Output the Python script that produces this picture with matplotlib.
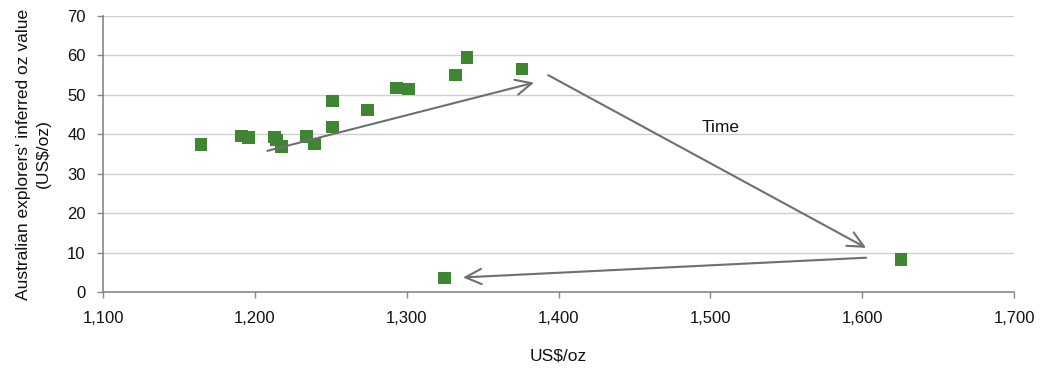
import matplotlib
matplotlib.use("Agg")
import matplotlib.pyplot as plt
from matplotlib.ticker import FuncFormatter, MultipleLocator

# Gold price (US$/oz) vs. explorers' inferred value per ounce (US$/oz)
gold_price = [1164.4, 1191.1, 1195.7, 1213.0, 1214.3, 1217.6, 1234.1, 1239.2,
              1251.0, 1251.0, 1274.3, 1293.2, 1301.3, 1332.1, 1339.7, 1376.1,
              1625.4, 1324.8]
inferred_value = [37.4, 39.6, 39.2, 39.3, 38.5, 36.9, 39.4, 37.5,
                  41.9, 48.4, 46.2, 51.7, 51.5, 55.1, 59.5, 56.5,
                  8.3, 3.6]

# Time-direction arrows: (start, end) in data units
time_arrows = [
    ((1208.2, 35.8), (1383.9, 53.1)),
    ((1393.2, 55.0), (1602.6, 11.2)),
    ((1602.6, 8.7), (1337.1, 3.7)),
]
time_label = "Time"
time_label_pos = (1506.5, 41.8)

plt.rcParams['font.family'] = ['Liberation Sans', 'DejaVu Sans']

fig = plt.figure(figsize=(10.47, 3.72), dpi=100)
ax = fig.add_axes([0.0984, 0.215, 0.8701, 0.742])

ax.scatter(gold_price, inferred_value, marker='s', s=80, color='#3f8532',
           edgecolors='none', zorder=3)

for (x0, y0), (x1, y1) in time_arrows:
    ax.annotate('', xy=(x1, y1), xytext=(x0, y0),
                arrowprops=dict(arrowstyle='->,head_length=1.15,head_width=0.55',
                                color='#6f6f6f', lw=1.5, shrinkA=0, shrinkB=0),
                zorder=4)

ax.text(*time_label_pos, time_label, fontsize=12.5, ha='center', va='center',
        color='#111111')

ax.set_xlim(1100, 1700)
ax.set_ylim(0, 70)
ax.xaxis.set_major_locator(MultipleLocator(100))
ax.yaxis.set_major_locator(MultipleLocator(10))
ax.xaxis.set_major_formatter(FuncFormatter(lambda v, p: f"{int(v):,}"))

ax.grid(axis='y', color='#d0d0d0', lw=1)
ax.set_axisbelow(True)
for side in ('top', 'right'):
    ax.spines[side].set_visible(False)
for side in ('left', 'bottom'):
    ax.spines[side].set_color('#888888')
    ax.spines[side].set_linewidth(1.2)

ax.tick_params(axis='both', colors='#888888', labelcolor='#111111',
               labelsize=12)
ax.tick_params(axis='x', length=4, width=1, pad=10)
ax.tick_params(axis='y', length=4.5, width=1, pad=8)

ax.set_xlabel("US\\$/oz", fontsize=12.5, color='#111111', labelpad=16)
ax.set_ylabel("Australian explorers' inferred oz value\n(US\\$/oz)",
              fontsize=12.5, color='#111111', linespacing=1.45)
ax.yaxis.set_label_coords(-0.057, 0.5)

fig.savefig("out.png", dpi=100)
